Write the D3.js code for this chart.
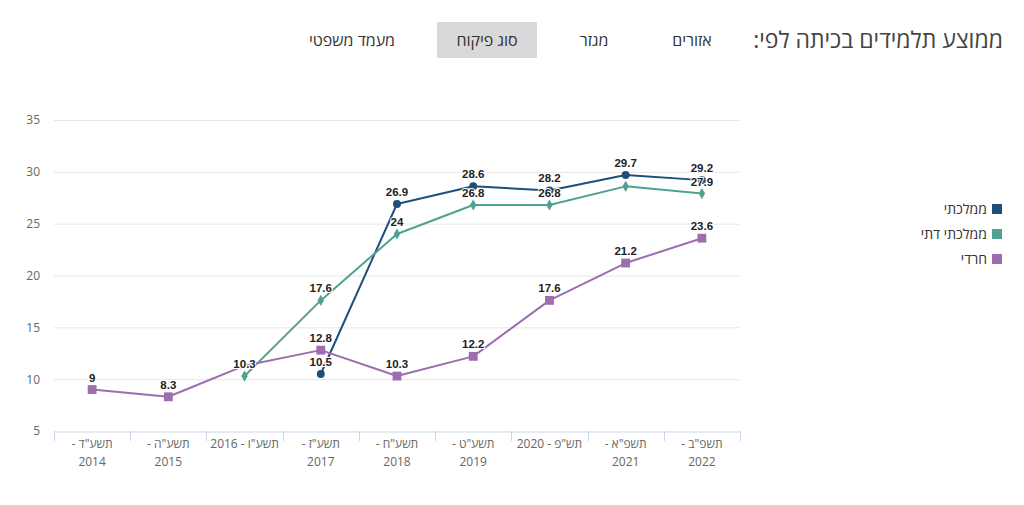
<!DOCTYPE html>
<html><head><meta charset="utf-8">
<script src="https://cdn.jsdelivr.net/npm/d3@7"></script>
<style>
body{margin:0;background:#fff;font-family:"Open Sans","Liberation Sans",sans-serif;}
svg{display:block}
</style></head><body>
<svg id="c" width="1024" height="505"></svg>
<script>
const categories = [["תשע\"ד -","2014"],["תשע\"ה -","2015"],["תשע\"ו - 2016"],["תשע\"ז -","2017"],["תשע\"ח -","2018"],["תשע\"ט -","2019"],["תש\"פ - 2020"],["תשפ\"א -","2021"],["תשפ\"ב -","2022"]];
const seriesNames = ["ממלכתי","ממלכתי דתי","חרדי"];
const mamlachti = [null,null,null,10.5,26.9,28.6,28.2,29.7,29.2];
const mamlachtiDati = [null,null,10.3,17.6,24,26.8,26.8,28.6,27.9];
const haredi = [9,8.3,11.3,12.8,10.3,12.2,17.6,21.2,23.6];
const yTicks = [5,10,15,20,25,30,35];
const tabs = ["אזורים","מגזר","סוג פיקוח","מעמד משפטי"];
const title = "ממוצע תלמידים בכיתה לפי:";
// points whose label / marker is not shown in the original (series index, category index)
const hiddenLabels = [[1,7],[2,2]];
const hiddenMarkers = [[2,2]];

const colors = ["#1f4e7a","#4fa28f","#9c6daf"];
const shapes = ["circle","diamond","square"];
const series = [mamlachti, mamlachtiDati, haredi];

const svg = d3.select("#c");
const font = "'Open Sans','Liberation Sans',sans-serif";

// Header
svg.append("text").attr("x",1003).attr("y",48).attr("text-anchor","start")
  .attr("direction","rtl").attr("font-size",23).attr("fill","#444").attr("font-family",font).text(title);
const tabCenters = [692,594,487,352];
svg.append("rect").attr("x",437).attr("y",22).attr("width",100).attr("height",36).attr("fill","#d9d9d9");
tabs.forEach((t,i)=>{
  svg.append("text").attr("x",tabCenters[i]).attr("y",46).attr("text-anchor","middle")
   .attr("font-size",16).attr("fill","#333").attr("font-family",font).attr("direction","rtl").text(t);
});

// Scales
const x = d3.scaleBand().domain(d3.range(categories.length)).range([54,740]);
const y = d3.scaleLinear().domain([5,35]).range([431,120]);
const g = svg.append("g");

// grid
g.selectAll(".grid").data(yTicks.slice(1)).join("line")
 .attr("x1",54).attr("x2",740).attr("y1",d=>y(d)+0.5).attr("y2",d=>y(d)+0.5)
 .attr("stroke","#e6e6e6").attr("stroke-width",1);

// y axis labels
const yAxis = d3.axisLeft(y).tickValues(yTicks).tickSize(0).tickPadding(0);
const ya = g.append("g").attr("transform","translate(40,0)").call(yAxis);
ya.select(".domain").remove();
ya.selectAll("text").attr("font-size",12).attr("fill","#666").attr("font-family",font).attr("dy","0.32em");

// x axis
const xAxis = d3.axisBottom(x).tickSize(0).tickFormat("");
const xa = g.append("g").attr("transform","translate(0,431.5)").call(xAxis);
xa.select(".domain").attr("stroke","#ccd6eb");
const bounds = d3.range(categories.length+1).map(i=>54+i*x.step());
g.selectAll(".xt").data(bounds).join("line")
 .attr("x1",d=>Math.round(d)+0.5).attr("x2",d=>Math.round(d)+0.5).attr("y1",431).attr("y2",441)
 .attr("stroke","#ccd6eb");
categories.forEach((lines,i)=>{
  const t = g.append("text").attr("x",x(i)+x.bandwidth()/2).attr("y",448)
    .attr("text-anchor","middle").attr("font-size",12).attr("fill","#666").attr("font-family",font).attr("direction","rtl");
  lines.forEach((l,j)=>{
    t.append("tspan").attr("x",x(i)+x.bandwidth()/2).attr("dy",j===0?0:18).text(l);
  });
});

const cx = i => x(i)+x.bandwidth()/2;
const isHidden = (arr,s,i)=>arr.some(p=>p[0]===s&&p[1]===i);

// lines
series.forEach((data,s)=>{
  const line = d3.line().defined(d=>d!=null).x((d,i)=>cx(i)).y(d=>y(d));
  g.append("path").datum(data).attr("d",line).attr("fill","none")
   .attr("stroke",colors[s]).attr("stroke-width",2).attr("stroke-linejoin","round");
});
// markers
const symType = {circle:d3.symbolCircle, diamond:d3.symbolDiamond, square:d3.symbolSquare};
const symSize = {circle:50, diamond:36, square:78};
series.forEach((data,s)=>{
  data.forEach((v,i)=>{
    if(v==null||isHidden(hiddenMarkers,s,i)) return;
    g.append("path").attr("d",d3.symbol().type(symType[shapes[s]]).size(symSize[shapes[s]])())
     .attr("transform",`translate(${cx(i)},${y(v)})`).attr("fill",colors[s]);
  });
});
// labels
series.forEach((data,s)=>{
  data.forEach((v,i)=>{
    if(v==null||isHidden(hiddenLabels,s,i)) return;
    g.append("text").attr("x",cx(i)).attr("y",y(v)-8).attr("text-anchor","middle")
     .attr("font-size",11.5).attr("font-weight","bold").attr("fill","#222").attr("font-family","'Liberation Sans Narrow','Liberation Sans',sans-serif")
     .attr("stroke","#fff").attr("stroke-width",2).attr("paint-order","stroke").attr("stroke-linejoin","round")
     .text(v);
  });
});

// legend
seriesNames.forEach((n,i)=>{
  const ly = 209 + i*25;
  svg.append("rect").attr("x",992).attr("y",ly-5).attr("width",10).attr("height",10).attr("fill",colors[i]);
  svg.append("text").attr("x",987).attr("y",ly+5).attr("text-anchor","start").attr("direction","rtl")
   .attr("font-size",14).attr("fill","#333").attr("font-family",font).text(n);
});
</script>
</body></html>
